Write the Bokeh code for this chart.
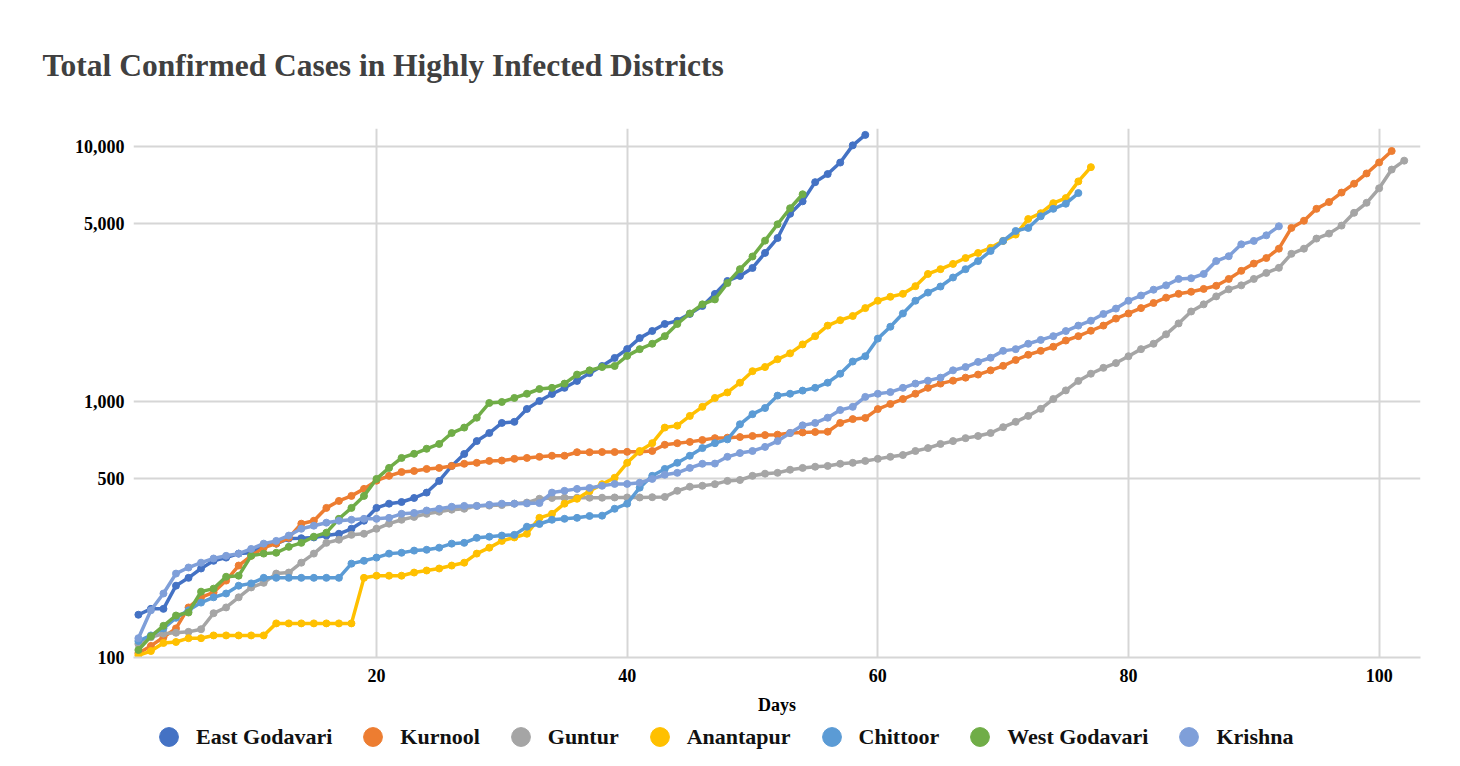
from bokeh.plotting import figure
from bokeh.layouts import column
from bokeh.models import FixedTicker, NumeralTickFormatter, Range1d, Legend, LegendItem
from bokeh.embed import file_html
from bokeh.resources import INLINE

names = ["East Godavari", "Kurnool", "Guntur", "Anantapur", "Chittoor", "West Godavari", "Krishna"]
colors = ["#4472C4", "#ED7D31", "#A5A5A5", "#FFC000", "#5B9BD5", "#70AD47", "#7F9FD9"]

east_godavari = [147, 155, 155, 191, 205, 223, 239, 246, 255, 257,
                 274, 279, 292, 293, 295, 300, 305, 319, 343, 385,
                 400, 406, 421, 442, 491, 562, 626, 703, 756, 828,
                 836, 939, 1009, 1075, 1136, 1209, 1297, 1383, 1487, 1611,
                 1778, 1896, 2020, 2077, 2212, 2375, 2648, 2975, 3113, 3346,
                 3830, 4382, 5450, 6100, 7250, 7800, 8650, 10100, 11100]
kurnool = [104, 111, 120, 130, 157, 172, 180, 200, 229, 250,
           269, 279, 294, 334, 343, 385, 410, 429, 457, 492,
           514, 532, 537, 547, 552, 562, 573, 578, 588, 590,
           599, 604, 610, 616, 616, 636, 636, 637, 637, 638,
           638, 643, 680, 690, 698, 710, 722, 725, 729, 736,
           742, 745, 756, 760, 763, 765, 828, 857, 866, 938,
           982, 1027, 1077, 1136, 1180, 1212, 1245, 1280, 1330, 1385,
           1460, 1530, 1585, 1645, 1740, 1810, 1900, 1990, 2120, 2220,
           2330, 2440, 2560, 2650, 2700, 2770, 2850, 3030, 3260, 3480,
           3660, 3980, 4800, 5120, 5700, 6060, 6600, 7150, 7840, 8660, 9600]
guntur = [113, 120, 124, 125, 126, 129, 149, 157, 172, 188,
          196, 213, 215, 235, 255, 281, 289, 302, 305, 319,
          334, 346, 355, 365, 372, 379, 382, 392, 393, 395,
          400, 404, 418, 421, 422, 422, 422, 422, 423, 423,
          423, 424, 425, 449, 466, 470, 477, 491, 495, 514,
          524, 528, 543, 552, 558, 562, 573, 578, 588, 599,
          610, 620, 643, 660, 685, 703, 722, 736, 756, 797,
          836, 882, 940, 1027, 1110, 1209, 1290, 1360, 1420, 1510,
          1610, 1690, 1840, 2030, 2260, 2410, 2590, 2760, 2860, 3030,
          3200, 3350, 3800, 3980, 4360, 4560, 4900, 5500, 6020, 6860, 8120, 8800]
anantapur = [102, 106, 114, 115, 119, 119, 122, 122, 122, 122,
             122, 136, 136, 136, 136, 136, 136, 136, 205, 209,
             209, 209, 215, 219, 223, 229, 235, 255, 269, 286,
             295, 305, 352, 365, 400, 418, 448, 477, 505, 578,
             643, 690, 794, 808, 882, 957, 1037, 1090, 1190, 1320,
             1370, 1470, 1550, 1680, 1810, 1990, 2090, 2170, 2330, 2490,
             2580, 2650, 2840, 3170, 3310, 3470, 3660, 3830, 4010, 4270,
             4520, 5200, 5480, 6000, 6280, 7300, 8300]
chittoor = [116, 122, 130, 143, 153, 164, 172, 178, 191, 195,
            205, 205, 205, 205, 205, 205, 205, 233, 239, 246,
            255, 257, 262, 264, 269, 279, 281, 294, 297, 300,
            302, 325, 333, 346, 349, 352, 358, 359, 382, 400,
            462, 514, 547, 578, 616, 660, 690, 714, 818, 896,
            947, 1059, 1077, 1108, 1136, 1190, 1290, 1440, 1510, 1770,
            1970, 2220, 2490, 2680, 2830, 3070, 3310, 3560, 3900, 4270,
            4670, 4800, 5330, 5700, 5970, 6570]
west_godavari = [107, 121, 133, 146, 150, 181, 186, 207, 209, 250,
                 255, 257, 271, 281, 297, 308, 349, 385, 429, 500,
                 552, 604, 627, 656, 685, 756, 794, 868, 991, 1000,
                 1037, 1077, 1124, 1136, 1180, 1280, 1330, 1370, 1383, 1515,
                 1610, 1690, 1810, 2020, 2220, 2410, 2520, 2920, 3310, 3710,
                 4280, 4960, 5730, 6500]
krishna = [119, 153, 178, 213, 225, 235, 244, 250, 255, 266,
           279, 286, 300, 319, 328, 337, 343, 346, 349, 349,
           352, 365, 368, 376, 382, 389, 392, 392, 396, 400,
           400, 401, 402, 442, 449, 457, 461, 470, 478, 478,
           483, 500, 519, 528, 552, 573, 574, 610, 631, 643,
           667, 703, 756, 810, 828, 868, 930, 957, 1047, 1077,
           1093, 1136, 1180, 1212, 1245, 1330, 1370, 1435, 1490, 1585,
           1610, 1690, 1750, 1810, 1895, 1990, 2080, 2210, 2320, 2490,
           2610, 2750, 2860, 3030, 3050, 3170, 3560, 3720, 4140, 4270, 4490, 4870]

series = [east_godavari, kurnool, guntur, anantapur, chittoor, west_godavari, krishna]

y_ticks = [100, 500, 1000, 5000, 10000]
x_ticks = [20, 40, 60, 80, 100]

FONT = "Liberation Serif"

p = figure(width=1456, height=720, y_axis_type="log",
           x_range=Range1d(0.61, 103.3), y_range=Range1d(100, 11757),
           output_backend="svg", toolbar_location=None,
           min_border_left=133, min_border_right=36,
           min_border_top=127, min_border_bottom=63)
p.outline_line_color = None
p.background_fill_color = "white"
p.border_fill_color = "white"

# title
p.title.text = "Total Confirmed Cases in Highly Infected Districts"
p.title.align = "left"
p.title.offset = -91
p.title.standoff = 91
p.title.text_font = FONT
p.title.text_font_style = "bold"
p.title.text_font_size = "31.5px"
p.title.text_color = "#404040"

# axes
p.yaxis.ticker = FixedTicker(ticks=y_ticks, minor_ticks=[])
p.yaxis.formatter = NumeralTickFormatter(format="0,0")
p.xaxis.ticker = FixedTicker(ticks=x_ticks, minor_ticks=[])
for ax in (p.xaxis, p.yaxis):
    ax.major_tick_line_color = None
    ax.minor_tick_line_color = None
    ax.major_tick_out = 0
    ax.major_tick_in = 0
    ax.major_label_text_font = FONT
    ax.major_label_text_font_style = "bold"
    ax.major_label_text_font_size = "18px"
    ax.major_label_text_color = "#000000"
p.yaxis.axis_line_color = None
p.yaxis.major_label_standoff = 9
p.xaxis.axis_line_color = "#d6d6d6"
p.xaxis.axis_line_width = 2
p.xaxis.major_label_standoff = 11
p.xaxis.axis_label = "Days"
p.xaxis.axis_label_text_font = FONT
p.xaxis.axis_label_text_font_style = "bold"
p.xaxis.axis_label_text_font_size = "18px"
p.xaxis.axis_label_text_color = "#000000"
p.xaxis.axis_label_standoff = 10

p.xgrid.ticker = FixedTicker(ticks=x_ticks)
p.ygrid.ticker = FixedTicker(ticks=y_ticks)
p.grid.grid_line_color = "#d6d6d6"
p.grid.grid_line_width = 2

for name, color, vals in zip(names, colors, series):
    days = list(range(1, len(vals) + 1))
    p.line(days, vals, line_color=color, line_width=3.5)
    p.scatter(days, vals, size=7, fill_color=color, line_color=color)

# legend strip below the chart (its frame is aligned with the chart frame)
lg = figure(width=1456, height=41, x_range=Range1d(0, 1), y_range=Range1d(0, 1),
            output_backend="svg", toolbar_location=None,
            min_border_left=0, min_border_right=0, min_border_top=0, min_border_bottom=0)
lg.axis.visible = False
lg.grid.visible = False
lg.outline_line_color = None
lg.background_fill_color = "white"
lg.border_fill_color = "white"

items = []
for name, color, vals in zip(names, colors, series):
    days = list(range(1, len(vals) + 1))
    r = lg.scatter(days, vals, size=7, fill_color=color, line_color=color)
    items.append(LegendItem(label=name, renderers=[r]))

legend = Legend(items=items, orientation="horizontal", location=(12, 1),
                glyph_width=47, glyph_height=47, label_standoff=4, spacing=17,
                padding=0, margin=0, border_line_color=None, background_fill_alpha=0,
                label_text_font=FONT, label_text_font_style="bold",
                label_text_font_size="22px", label_text_color="#111111")
lg.add_layout(legend)

open("out.html", "w").write(file_html(column(p, lg), INLINE))
